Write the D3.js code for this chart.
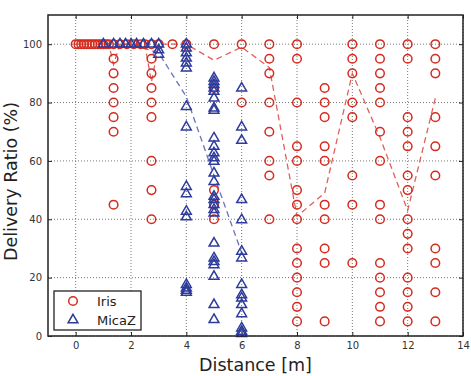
<html>
<head>
<meta charset="utf-8">
<title>Delivery ratio vs distance</title>
<script src="https://cdn.jsdelivr.net/npm/d3@7"></script>
<style>
  body { margin: 0; background: #fff; }
  svg { display: block; font-family: "DejaVu Sans", sans-serif; }
</style>
</head>
<body>
<div id="chart"></div>
<script>
const width = 471, height = 376;
const margin = {top: 15, right: 8, bottom: 40, left: 48};

// Iris: distances that got 100% in the close range, then one column per distance
const irisFullX = [0, 0.1, 0.2, 0.3, 0.4, 0.5, 0.6, 0.7, 0.8, 0.9, 1, 1.1, 1.2, 1.6, 1.85, 2.1, 2.35, 2.5, 3, 3.5];
const irisDist = [1.37, 2.74, 4, 5, 6, 7, 8, 9, 10, 11, 12, 13];
const irisRatios = [
  [100, 95, 90, 85, 80, 75, 70, 45],
  [100, 95, 90, 85, 80, 75, 60, 50, 40],
  [100],
  [100, 85, 50, 45, 40],
  [100, 80],
  [100, 95, 90, 80, 70, 60, 55, 40],
  [100, 95, 80, 65, 60, 50, 45, 40, 30, 25, 20, 15, 10, 5],
  [85, 80, 75, 65, 60, 45, 40, 30, 25, 5],
  [100, 95, 90, 80, 75, 55, 45, 25],
  [100, 95, 90, 85, 80, 70, 60, 45, 40, 25, 20, 15, 10, 5],
  [100, 95, 75, 70, 65, 55, 50, 40, 35, 30, 20, 15, 10, 5],
  [100, 95, 90, 75, 65, 55, 30, 25, 15, 5]
];

// MicaZ
const micazFullX = [1, 1.37, 1.6, 1.8, 2, 2.2, 2.45, 2.74];
const micazDist = [3, 4, 5, 6];
const micazRatios = [
  [100, 98, 96.5],
  [100, 98.6, 97, 95.2, 93.5, 91.8, 78.6, 71.6, 51.2, 48.7, 42.7, 40.8, 17.6, 16.4, 15.6, 14.9],
  [88.4, 87.2, 86.1, 84.9, 83.8, 81.5, 78.1, 77.3, 67.8, 65, 62.7, 61, 59.8, 55.8, 52.9,
   47.8, 46.7, 45, 43.3, 42.1, 31.8, 26.7, 25.5, 24.4, 20.4, 10.7, 5.6],
  [84.9, 71.6, 67, 46.7, 39.8, 29, 26.7, 17.6, 14.1, 13, 10.7, 7.6, 2.7, 1.6, 0.8]
];

// average curves (dashed)
const irisMeanX = [0, 0.5, 1, 1.2, 1.37, 1.6, 2, 2.5, 2.74, 3, 3.5, 4, 5, 6, 7, 8, 9, 10, 11, 12, 13];
const irisMeanY = [100, 100, 100, 100, 93, 100, 100, 100, 87, 100, 100, 100, 94.5, 99, 92, 41, 49, 90, 68, 43, 81.5];
const micazMeanX = [1, 2, 3, 4, 5, 6];
const micazMeanY = [100, 100, 97, 82, 55, 28.5];

const xTicks = [0, 2, 4, 6, 8, 10, 12, 14];
const yTicks = [0, 20, 40, 60, 80, 100];

const red = "#d52b1f", blue = "#2c3b9c";

const svg = d3.select("#chart").append("svg")
  .attr("width", width)
  .attr("height", height);

const x = d3.scaleLinear().domain([-1, 14]).range([margin.left, width - margin.right]);
const y = d3.scaleLinear().domain([0, 110]).range([height - margin.bottom, margin.top]);

// grid
const grid = svg.append("g")
  .attr("stroke", "#777")
  .attr("stroke-width", 1)
  .attr("stroke-dasharray", "1,2");
grid.selectAll(".gx").data(xTicks).join("line")
  .attr("x1", d => x(d)).attr("x2", d => x(d))
  .attr("y1", y(0)).attr("y2", y(110));
grid.selectAll(".gy").data(yTicks).join("line")
  .attr("x1", x(-1)).attr("x2", x(14))
  .attr("y1", d => y(d)).attr("y2", d => y(d));

// axes
const xAxis = svg.append("g")
  .attr("transform", `translate(0,${y(0)})`)
  .call(d3.axisBottom(x).tickValues(xTicks).tickSizeInner(-4).tickSizeOuter(0).tickPadding(6));
const yAxis = svg.append("g")
  .attr("transform", `translate(${x(-1)},0)`)
  .call(d3.axisLeft(y).tickValues(yTicks).tickSizeInner(-4).tickSizeOuter(0).tickPadding(6));
svg.append("g")
  .attr("transform", `translate(0,${y(110)})`)
  .call(d3.axisTop(x).tickValues(xTicks).tickSizeInner(-4).tickSizeOuter(0).tickFormat(""));
svg.append("g")
  .attr("transform", `translate(${x(14)},0)`)
  .call(d3.axisRight(y).tickValues(yTicks).tickSizeInner(-4).tickSizeOuter(0).tickFormat(""));
svg.selectAll(".domain").remove();
svg.selectAll(".tick line").attr("stroke", "#222");
[xAxis, yAxis].forEach(a => a.selectAll("text")
  .attr("font-family", "DejaVu Sans").attr("font-size", 10).attr("fill", "#333"));

// dashed mean lines
const line = d3.line().x(d => x(d[0])).y(d => y(d[1]));
svg.append("path")
  .datum(irisMeanX.map((d, i) => [d, irisMeanY[i]]))
  .attr("d", line)
  .attr("fill", "none")
  .attr("stroke", "#e0605a")
  .attr("stroke-width", 1.3)
  .attr("stroke-dasharray", "6,4");
svg.append("path")
  .datum(micazMeanX.map((d, i) => [d, micazMeanY[i]]))
  .attr("d", line)
  .attr("fill", "none")
  .attr("stroke", "#6a72bd")
  .attr("stroke-width", 1.3)
  .attr("stroke-dasharray", "6,4");

// points
const irisPts = irisFullX.map(d => [d, 100]);
irisDist.forEach((d, i) => irisRatios[i].forEach(v => irisPts.push([d, v])));
const micazPts = micazFullX.map(d => [d, 100]);
micazDist.forEach((d, i) => micazRatios[i].forEach(v => micazPts.push([d, v])));

svg.append("g").selectAll("circle").data(irisPts).join("circle")
  .attr("cx", d => x(d[0]))
  .attr("cy", d => y(d[1]))
  .attr("r", 4.3)
  .attr("fill", "none")
  .attr("stroke", red)
  .attr("stroke-width", 1.5);

const tri = d3.symbol().type(d3.symbolTriangle).size(42);
svg.append("g").selectAll("path").data(micazPts).join("path")
  .attr("d", tri)
  .attr("transform", d => `translate(${x(d[0])},${y(d[1])})`)
  .attr("fill", "none")
  .attr("stroke", blue)
  .attr("stroke-width", 1.5);

// frame
svg.append("rect")
  .attr("x", x(-1)).attr("y", y(110))
  .attr("width", x(14) - x(-1)).attr("height", y(0) - y(110))
  .attr("fill", "none")
  .attr("stroke", "#222")
  .attr("stroke-width", 1.5);

// legend
const lg = svg.append("g");
lg.append("rect")
  .attr("x", 54).attr("y", 291).attr("width", 87).attr("height", 39)
  .attr("fill", "#fff").attr("stroke", "#222").attr("stroke-width", 1.3);
lg.append("circle")
  .attr("cx", 73).attr("cy", 301).attr("r", 4.3)
  .attr("fill", "none").attr("stroke", red).attr("stroke-width", 1.5);
lg.append("path")
  .attr("d", tri).attr("transform", "translate(73,320)")
  .attr("fill", "none").attr("stroke", blue).attr("stroke-width", 1.5);
lg.append("text").attr("x", 97).attr("y", 305.5).attr("font-size", 13).attr("fill", "#222").text("Iris");
lg.append("text").attr("x", 97).attr("y", 325).attr("font-size", 13).attr("fill", "#222").text("MicaZ");

// axis titles
svg.append("text")
  .attr("x", (x(-1) + x(14)) / 2).attr("y", 371)
  .attr("text-anchor", "middle")
  .attr("font-size", 17.5).attr("fill", "#222")
  .text("Distance [m]");
svg.append("text")
  .attr("transform", `translate(17,${(y(0) + y(110)) / 2 + 6}) rotate(-90)`)
  .attr("text-anchor", "middle")
  .attr("font-size", 17.5).attr("fill", "#222")
  .text("Delivery Ratio (%)");
</script>
</body>
</html>
